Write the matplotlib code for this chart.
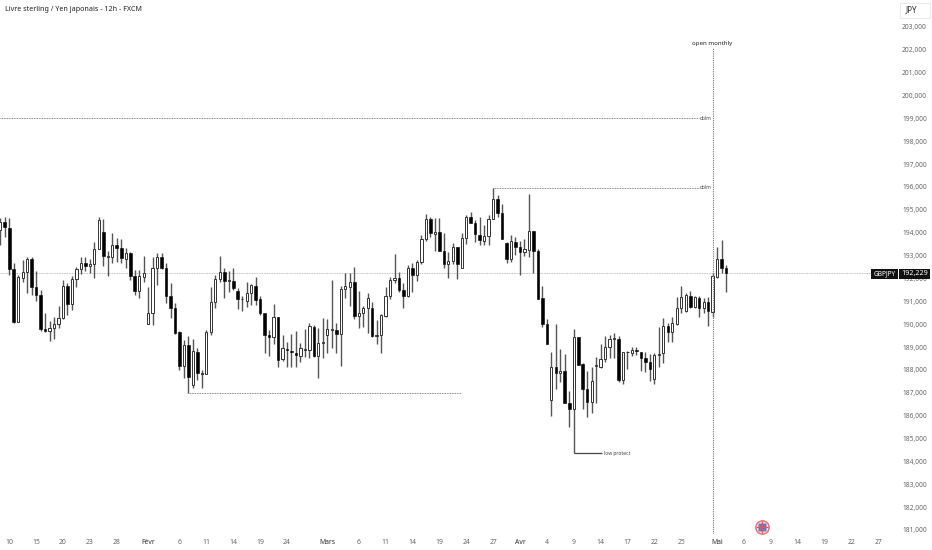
import matplotlib
matplotlib.use('Agg')
import matplotlib.pyplot as plt
import numpy as np

plt.rcParams['font.family'] = ['Noto Sans', 'DejaVu Sans']

# GBPJPY 12h, values
highs = [194.63,194.70,194.63,192.66,192.15,192.81,192.92,192.92,192.34,191.49,190.47,190.15,190.33,190.81,191.93,191.78,192.11,192.51,192.95,192.95,192.83,193.61,194.67,194.60,193.21,193.97,193.75,193.71,193.32,193.17,
         192.37,192.37,192.98,191.61,192.95,193.10,193.10,192.66,191.78,190.91,189.70,189.31,189.50,189.34,188.94,187.99,189.74,191.64,192.15,192.98,192.44,192.34,192.44,191.60,191.23,191.86,191.76,192.08,191.23,190.47,
         189.74,190.88,190.33,189.53,189.23,189.57,189.70,189.16,189.77,190.06,189.96,189.82,190.25,190.21,191.93,190.04,191.67,192.25,192.22,192.51,191.45,190.81,191.38,190.98,190.18,190.43,191.61,192.08,193.05,192.30,
         191.78,192.59,192.66,192.81,193.90,194.82,194.70,194.63,194.63,193.97,193.17,193.53,193.39,193.97,194.77,194.92,194.56,194.70,194.34,194.77,195.96,195.65,195.26,193.61,193.90,193.83,193.64,193.71,195.69,194.07,
         193.27,191.68,190.22,188.77,189.99,188.90,188.69,187.09,189.77,189.42,188.29,187.97,188.11,188.58,189.13,189.48,189.53,189.60,189.48,188.80,188.83,189.02,189.02,188.80,188.80,188.69,188.75,189.86,190.25,190.04,
         190.30,191.20,191.67,191.38,191.46,191.23,191.23,191.13,191.20,192.22,193.39,193.68,192.59]
lows = [193.46,193.83,192.15,190.04,190.11,191.83,191.35,191.27,191.01,189.70,189.67,189.28,189.34,189.82,190.21,190.40,190.62,191.64,192.19,192.34,192.22,192.03,193.27,192.54,192.11,192.66,192.73,192.66,192.44,191.93,
        191.27,191.13,191.86,190.01,189.96,191.71,192.41,190.91,190.25,189.57,187.99,187.63,187.00,187.19,187.56,187.19,187.82,189.53,190.69,191.86,191.13,191.42,191.49,190.65,190.59,190.76,190.84,190.84,190.40,188.72,
        188.62,189.13,188.11,188.40,188.14,188.11,188.11,188.33,188.58,188.50,188.55,187.63,188.50,188.75,188.97,188.72,188.18,191.13,190.79,190.21,189.82,189.86,189.63,189.45,189.12,188.75,190.33,191.08,191.78,191.42,
        190.69,191.17,191.42,191.90,192.63,193.65,193.80,193.21,193.20,192.44,192.03,192.63,191.96,192.47,193.51,194.41,193.61,193.46,193.46,193.46,194.58,194.70,193.72,192.66,192.73,193.02,192.15,192.98,192.92,192.22,
        191.08,189.89,189.13,185.98,187.16,187.45,186.53,185.52,184.35,188.21,186.29,185.95,186.13,186.53,188.07,188.36,188.50,188.50,187.48,187.38,188.02,188.62,188.65,187.95,187.92,187.53,187.38,188.14,188.29,189.23,
        189.23,189.96,190.50,190.55,190.69,190.69,190.33,190.47,189.92,190.30,192.00,192.22,191.42]
body_top = [194.48,194.48,194.22,192.40,192.05,192.27,192.85,192.85,191.61,191.29,189.80,189.85,190.01,190.25,191.67,191.67,191.99,192.41,192.66,192.66,192.63,193.29,194.56,194.04,192.98,193.45,193.46,193.32,193.10,193.10,
            192.11,192.11,192.24,190.47,192.44,192.95,192.95,192.44,191.23,190.69,189.64,189.10,189.09,188.81,188.80,187.88,189.67,190.98,191.97,192.27,192.27,191.93,191.90,191.46,191.11,191.38,191.71,191.67,191.08,190.47,
            189.53,190.30,190.30,188.96,188.93,188.84,188.75,188.94,188.91,189.92,189.89,189.16,189.20,189.80,189.79,189.73,191.54,191.65,191.84,191.83,190.47,190.71,191.13,190.69,189.54,190.39,191.25,191.93,192.03,192.02,
            191.49,192.47,192.46,192.72,193.71,194.58,194.58,194.04,194.04,193.21,192.76,193.36,193.36,193.75,194.70,194.67,194.44,193.90,193.87,194.58,195.46,195.46,194.85,193.53,193.64,193.61,193.39,193.27,194.07,194.07,
            193.20,191.13,189.99,188.11,188.11,187.94,187.94,186.56,189.42,189.42,188.26,187.15,187.50,188.21,188.49,189.02,189.35,189.39,189.36,188.80,188.80,188.87,188.85,188.80,188.50,188.34,188.64,188.71,189.93,189.93,
            190.04,190.71,191.19,191.27,191.25,191.17,191.14,190.95,190.95,192.11,192.85,192.85,192.44]
body_bot = [194.12,194.26,192.40,190.11,190.11,192.03,192.27,191.61,191.27,189.79,189.70,189.69,189.83,189.99,190.25,190.88,190.87,191.96,192.41,192.54,192.54,192.62,193.29,192.98,192.95,192.95,193.35,192.88,192.85,192.11,
            191.46,191.46,192.08,190.02,190.47,192.44,192.44,191.23,190.69,189.60,188.18,188.17,187.70,187.34,187.85,187.82,187.83,189.67,190.98,191.96,191.90,191.89,191.57,191.09,191.09,191.03,191.35,191.06,190.47,189.53,
            189.44,189.42,188.43,188.49,188.85,188.78,188.64,188.62,188.88,188.87,188.61,188.61,189.19,189.53,189.76,189.58,189.58,191.52,191.64,190.36,190.34,190.47,190.69,189.48,189.47,189.53,190.37,191.25,191.92,191.49,
            191.23,191.23,192.13,192.15,192.72,193.71,193.97,193.93,193.21,192.63,192.63,192.75,192.63,192.47,193.75,194.44,193.93,193.68,193.65,193.87,194.58,194.85,193.72,192.85,192.85,193.39,193.17,193.17,193.24,193.20,
            191.10,189.99,189.15,186.68,187.88,187.88,186.56,186.27,186.27,188.21,187.15,186.61,186.61,188.18,188.14,188.46,188.99,189.36,187.56,187.56,188.77,188.75,188.84,188.50,188.36,188.04,187.59,188.65,188.72,189.67,
            189.67,190.01,190.69,190.57,190.74,190.74,190.71,190.69,190.56,190.55,192.08,192.44,192.23]
# 1 = rising (hollow), 0 = falling (black)
rising = [1,0,0,0,1,1,1,0,0,0,0,1,1,1,1,0,1,1,1,0,1,1,1,0,1,1,0,0,1,0,
          0,1,1,1,1,1,0,0,0,0,0,1,0,1,0,1,1,1,1,1,0,1,0,0,1,1,1,0,0,0,
          0,1,0,1,0,0,0,1,1,1,0,1,1,1,1,0,1,1,1,0,1,1,1,0,1,1,1,1,1,0,
          0,1,0,1,1,1,0,1,0,0,1,1,0,1,1,0,0,0,1,1,1,0,0,0,1,0,0,1,1,0,
          0,0,0,1,0,1,0,0,1,0,0,0,1,1,1,1,1,1,0,1,1,1,0,0,0,0,1,1,1,0,
          1,1,1,1,0,1,0,1,0,1,1,0,0]

price_ticks = [181,182,183,184,185,186,187,188,189,190,191,192,193,194,195,196,197,198,199,200,201,202,203]
date_pos = [2,8,14,20,26,33,40,46,52,58,64,73,80,86,92,98,104,110,116,122,128,134,140,146,152,160,166,172,178,184,190,196]
date_labels = ['10','15','20','23','28','Févr','6','11','14','19','24','Mars','6','11','14','19','24','27','Avr','4','9','14','17','22','25','Mai','6','9','14','19','22','27']
month_labels = ['Févr','Mars','Avr','Mai']
last_price = 192.229
level_dolm_1 = 199.0
level_dolm_2 = 195.96
level_low = 187.0
bar_low = 184.35

fig = plt.figure(figsize=(9.32, 5.5), dpi=100)
ax = fig.add_axes([0, 1 - 534 / 550, 900 / 932, 534 / 550])
ax.set_xlim(-0.067, 200.83)
ax.set_ylim(180.82, 204.18)
for s in ax.spines.values():
    s.set_visible(False)

x = np.arange(len(highs))
rising = np.array(rising, dtype=bool)
top = np.array(body_top)
bot = np.array(body_bot)

ax.vlines(x, lows, highs, color='#555555', lw=1.0, zorder=3)
ax.bar(x[rising], top[rising] - bot[rising], bottom=bot[rising], width=0.5,
       facecolor='white', edgecolor='#333333', lw=0.7, zorder=4)
ax.bar(x[~rising], top[~rising] - bot[~rising], bottom=bot[~rising], width=0.58,
       facecolor='black', edgecolor='black', lw=0.4, zorder=4)

# drawings
dots = (0, (1, 1))
ax.axhline(last_price, color='#a8a8a8', lw=0.6, ls=dots, zorder=1)
ax.hlines(level_dolm_1, -0.067, 156, color='#666666', lw=0.6, ls=dots)
ax.hlines(level_dolm_2, 110, 156, color='#666666', lw=0.6, ls=dots)
ax.hlines(level_low, 42, 102.8, color='#666666', lw=0.6, ls=dots)
ax.vlines(159, 180.82, 202.1, color='#777777', lw=0.8, ls=dots, zorder=5)
ax.hlines(bar_low, 128, 134.4, color='#444444', lw=0.9, zorder=3)
ax.text(157.4, level_dolm_1, 'dolm', fontsize=3.6, color='#444444', va='center', ha='center')
ax.text(157.4, level_dolm_2, 'dolm', fontsize=3.6, color='#444444', va='center', ha='center')
ax.text(134.7, bar_low, 'low protect', fontsize=3.6, color='#444444', va='center', ha='left')
ax.text(159, 202.16, 'open monthly', fontsize=4.4, color='#222222', va='bottom', ha='center')

# axes
ax.yaxis.tick_right()
ax.set_yticks(price_ticks)
ax.set_yticklabels([f'{p},000' for p in price_ticks], fontsize=4.8, color='#666666')
ax.set_xticks(date_pos)
ax.set_xticklabels(date_labels, fontsize=4.9, color='#666666')
ax.tick_params(axis='both', length=0)
ax.tick_params(axis='y', pad=1.5)
ax.tick_params(axis='x', pad=3.5)
for lab in ax.get_xticklabels():
    if lab.get_text() in month_labels:
        lab.set_fontweight('bold')
        lab.set_color('#333333')

# header + boxes
fig.text(5 / 932, 1 - 9.5 / 550, 'Livre sterling / Yen japonais - 12h - FXCM', fontsize=5.15, color='#222222', va='center')
fig.patches.append(plt.Rectangle((900 / 932, 1 - 18 / 550), 30 / 932, 15 / 550, transform=fig.transFigure,
                                 facecolor='white', edgecolor='#e6e6e6', lw=0.6))
fig.text(911 / 932, 1 - 10 / 550, 'JPY', fontsize=5.8, color='#333333', va='center', ha='center')
fig.patches.append(plt.Rectangle((871 / 932, 1 - 279 / 550), 27 / 932, 10.5 / 550, transform=fig.transFigure,
                                 facecolor='#111111', edgecolor='none'))
fig.patches.append(plt.Rectangle((899 / 932, 1 - 279 / 550), 31 / 932, 10.5 / 550, transform=fig.transFigure,
                                 facecolor='#111111', edgecolor='none'))
fig.text(884.5 / 932, 1 - 274 / 550, 'GBPJPY', fontsize=4.7, color='white', va='center', ha='center')
fig.text(914.5 / 932, 1 - 274 / 550, f'{last_price:.3f}'.replace('.', ','), fontsize=5.2, color='white', va='center', ha='center')

# flag badge
fx, fy = 170, 181.13
ax.plot([fx], [fy], marker='o', ms=9.6, mfc='#f26d7d', mec='#f26d7d', clip_on=False, zorder=6)
ax.plot([fx], [fy], marker='o', ms=7.4, mfc='#f4f4f6', mec='#f4f4f6', clip_on=False, zorder=6)
for dx, dy in [(-0.45, 0.07), (0.45, 0.07), (-0.45, -0.07), (0.45, -0.07)]:
    ax.plot([fx + dx], [fy + dy], marker='s', ms=2.3, mfc='#5a7fc4', mec='none', clip_on=False, zorder=7)
ax.plot([fx], [fy], marker='+', ms=8, mec='#e8505f', mew=1.0, clip_on=False, zorder=8)

fig.savefig('out.png', dpi=100)
